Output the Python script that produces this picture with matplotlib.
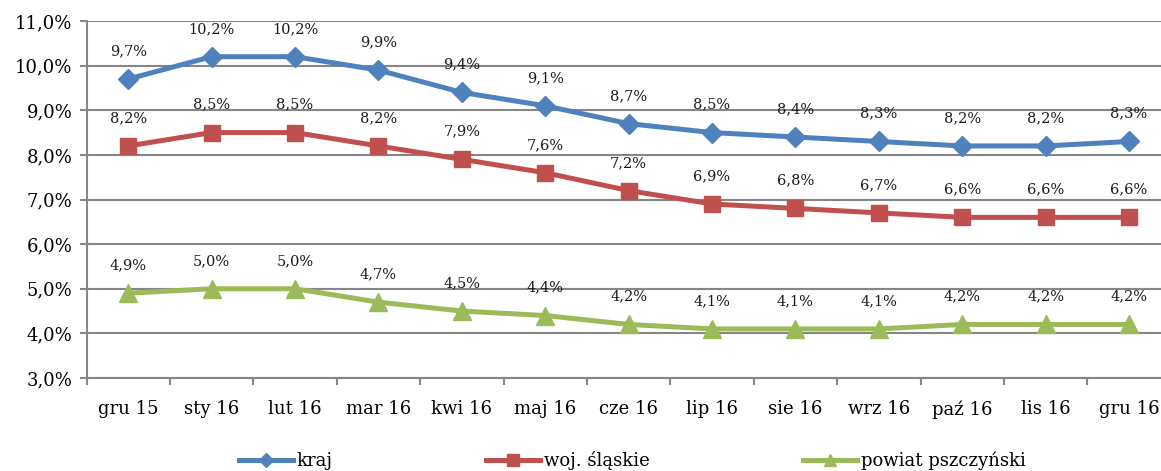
import matplotlib
matplotlib.use("Agg")
import matplotlib.pyplot as plt
from matplotlib.lines import Line2D

months = ["gru 15", "sty 16", "lut 16", "mar 16", "kwi 16", "maj 16", "cze 16",
          "lip 16", "sie 16", "wrz 16", "paź 16", "lis 16", "gru 16"]
kraj = [9.7, 10.2, 10.2, 9.9, 9.4, 9.1, 8.7, 8.5, 8.4, 8.3, 8.2, 8.2, 8.3]
woj = [8.2, 8.5, 8.5, 8.2, 7.9, 7.6, 7.2, 6.9, 6.8, 6.7, 6.6, 6.6, 6.6]
powiat = [4.9, 5.0, 5.0, 4.7, 4.5, 4.4, 4.2, 4.1, 4.1, 4.1, 4.2, 4.2, 4.2]
series_names = ["kraj", "woj. śląskie", "powiat pszczyński"]
yticks = [3, 4, 5, 6, 7, 8, 9, 10, 11]

colors = ["#4F81BD", "#C0504D", "#9BBB59"]
markers = ["D", "s", "^"]
msizes = [10, 12, 13]

plt.rcParams['font.family'] = ['DejaVu Serif']

fig = plt.figure(figsize=(11.61, 4.71), dpi=100)
ax = fig.add_axes([86.5/1161, (471-378)/471, (1170.7-86.5)/1161, (378-21)/471])

x = list(range(len(months)))
for vals, c, m, ms in zip([kraj, woj, powiat], colors, markers, msizes):
    ax.plot(x, vals, color=c, lw=3.6, marker=m, markersize=ms, zorder=3, clip_on=False)
    for xi, v in zip(x, vals):
        ax.annotate(f"{v:.1f}%".replace(".", ","), (xi, v), xytext=(0, 20),
                    textcoords="offset points", ha="center", va="center",
                    fontsize=10.5, color="#1a1a1a")

ax.set_xlim(-0.5, len(months) - 0.5)
ax.set_ylim(3, 11)
ax.set_yticks(yticks)
ax.set_yticklabels([f"{t:.1f}%".replace(".", ",") for t in yticks], fontsize=13)
ax.set_xticks(x)
ax.set_xticklabels(months, fontsize=13)
ax.set_xticks([i - 0.5 for i in range(len(months) + 1)], minor=True)
ax.tick_params(axis="x", which="major", length=0, pad=16)
ax.tick_params(axis="x", which="minor", length=5, width=1.5, color="#868686")
ax.tick_params(axis="y", length=5, width=1.5, color="#868686", pad=5)
ax.grid(axis="y", color="#868686", lw=1.5, zorder=0)
for s in ["top", "right"]:
    ax.spines[s].set_visible(False)
for s in ["left", "bottom"]:
    ax.spines[s].set_color("#868686")
    ax.spines[s].set_linewidth(1.5)

handles = [Line2D([], [], color=c, lw=3.6, marker=m, markersize=ms*0.7)
           for c, m, ms in zip(colors, markers, msizes)]
fig.legend(handles, series_names, loc="center", bbox_to_anchor=(632/1161, (471-461)/471),
           ncol=3, frameon=False, fontsize=13, handlelength=3.0, handletextpad=0.2,
           columnspacing=8.5)

fig.savefig("out.png", dpi=100)
